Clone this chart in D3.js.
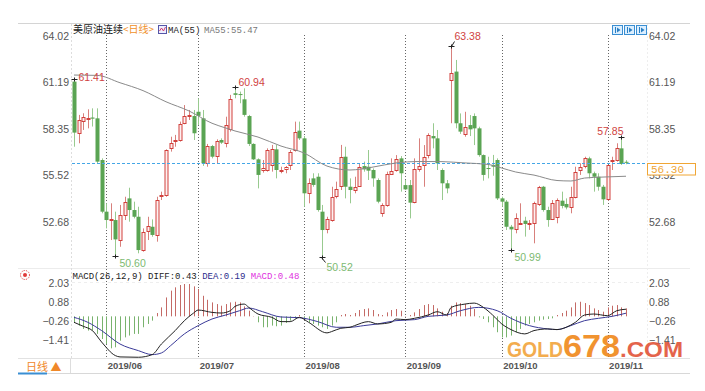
<!DOCTYPE html>
<html>
<head>
<meta charset="utf-8">
<script src="https://cdn.jsdelivr.net/npm/d3@7"></script>
<style>
  body { margin: 0; background: #fff; }
  svg text { font-family: "Liberation Sans", Arial, sans-serif; }
  .mono { font-family: "Liberation Mono", "DejaVu Sans Mono", monospace; }
  .cjk { font-family: "Noto Sans CJK SC", sans-serif; }
</style>
</head>
<body>
<svg id="chart" width="705" height="391"></svg>
<script>
// daily candles, index 0 = first bar on the chart
const open = [61.24,58.13,58.86,58.94,59.05,59.00,56.46,53.31,52.78,52.80,51.58,53.11,54.12,53.41,53.00,50.97,52.15,52.39,51.89,54.25,
  54.33,57.17,57.60,57.68,58.70,59.15,59.14,59.40,59.00,56.26,57.31,56.71,57.68,57.48,58.33,60.53,60.48,60.16,59.14,57.44,
  56.50,55.85,55.85,56.16,57.11,55.83,55.90,56.16,57.07,58.25,57.78,54.47,55.34,55.44,53.31,52.23,52.80,54.22,54.83,56.66,
  54.83,54.67,54.87,56.09,56.05,55.85,55.24,53.21,53.71,55.65,55.81,56.56,54.93,54.93,53.86,55.89,56.15,56.76,57.92,57.78,
  55.85,55.04,61.38,61.85,58.70,58.09,58.59,59.14,58.39,56.76,55.97,56.16,56.46,54.12,53.92,52.39,52.23,52.58,52.76,52.56,
  52.60,53.78,54.83,53.41,52.84,53.00,53.98,53.78,53.61,54.22,55.85,56.05,56.56,55.65,55.44,54.83,54.06,56.40,56.46,57.17,56.35];
const high = [61.41,59.21,59.31,59.55,59.61,59.61,56.56,53.82,53.82,53.31,53.72,54.22,54.77,53.92,53.61,52.29,53.00,52.84,54.22,54.53,
  57.11,57.88,57.99,58.80,59.81,59.51,59.51,60.22,59.51,57.44,57.38,57.72,57.78,59.10,60.43,60.94,60.63,60.83,59.21,57.48,
  56.56,56.46,57.17,57.38,57.38,56.05,56.09,57.07,58.80,58.80,57.92,55.34,55.65,55.65,53.72,53.00,54.83,55.14,57.38,57.27,
  55.34,55.44,56.26,56.36,57.07,55.95,55.34,53.82,55.75,56.56,56.76,56.70,55.24,55.24,56.56,57.78,57.37,58.09,58.70,58.29,
  55.95,55.24,63.38,62.56,59.30,59.40,59.20,59.30,58.49,56.80,56.66,56.77,56.56,54.22,54.02,52.50,53.21,53.82,53.00,52.80,
  53.92,54.88,54.88,53.61,54.02,54.12,54.53,54.12,54.83,56.05,56.26,56.66,56.66,55.75,55.65,54.94,56.16,56.66,57.48,57.85,56.45];
const low = [57.27,57.48,58.29,58.39,58.50,56.26,53.21,52.29,51.58,50.60,51.17,52.80,52.70,52.90,50.77,50.87,51.58,51.78,51.48,54.02,
  54.22,56.97,57.27,57.58,58.64,58.90,57.68,58.60,56.10,56.05,56.56,56.26,57.44,57.23,58.19,60.22,59.92,59.10,57.31,56.46,
  54.73,55.69,55.75,55.75,55.34,55.65,55.65,55.85,56.97,57.68,53.61,53.82,54.83,53.31,50.52,51.99,52.70,54.12,54.63,54.12,
  53.82,54.43,54.83,55.75,55.24,54.83,53.82,53.00,53.61,55.65,55.75,54.53,54.63,52.90,53.82,55.75,54.83,56.56,57.17,55.85,
  54.02,54.43,58.70,58.39,58.05,57.88,57.92,57.37,56.66,55.20,55.34,55.50,54.02,53.61,52.19,50.99,51.99,52.50,51.79,52.20,
  51.38,53.66,53.31,52.39,52.80,52.60,53.51,53.45,53.21,54.12,55.55,55.95,55.34,54.53,54.59,53.72,53.98,55.85,56.36,56.16,56.20];
const close = [58.13,58.90,59.10,59.00,58.98,56.36,53.31,52.80,52.84,51.62,53.11,53.92,53.41,53.00,50.97,52.09,52.44,51.89,54.02,54.33,
  57.07,57.48,57.68,58.64,59.14,59.20,58.09,59.15,56.26,57.31,56.66,57.62,57.52,58.60,60.16,60.43,60.43,59.21,57.44,56.50,
  55.55,55.95,57.07,57.11,55.85,55.87,56.01,56.97,58.19,57.78,54.43,55.08,54.94,53.41,52.19,52.84,54.22,54.67,56.62,54.83,
  54.63,54.83,56.05,55.89,55.81,55.34,53.92,53.71,55.61,55.81,56.50,55.65,54.67,53.86,55.89,56.09,56.66,57.98,57.78,56.26,
  55.04,54.73,61.78,58.70,58.19,58.49,58.33,58.39,56.76,55.55,55.93,56.05,54.12,53.92,52.39,52.23,52.90,52.62,52.56,52.62,
  53.82,54.83,53.41,52.80,53.82,54.02,53.66,53.57,54.22,55.75,56.01,56.56,55.65,55.44,54.83,54.06,56.16,56.46,57.17,56.22,56.30];

// MA55 read at some bars
const maIdx = [0,5,10,15,20,25,30,33,35,40,45,50,55,60,65,70,75,80,85,90,93,96,100,105,108,111,115,120];
const maVal = [61.64,61.62,61.17,60.69,60.01,59.45,58.70,58.41,58.23,57.86,57.31,56.89,56.09,55.85,56.03,56.28,56.37,56.36,56.28,56.19,55.97,55.73,55.54,55.21,55.18,55.36,55.42,55.47];

// MACD(26,12,9)
const macdHist = [-0.36,-0.56,-0.76,-0.86,-0.86,-1.06,-1.37,-1.67,-1.93,-1.87,-1.47,-1.27,-1.16,-1.06,-1.06,-0.66,-0.46,-0.26,0.20,0.54,
  1.14,1.55,1.75,1.89,1.95,1.95,1.81,1.65,1.24,1.00,0.84,0.74,0.64,0.74,0.84,0.88,0.84,0.60,0.34,0.02,
  -0.36,-0.66,-0.66,-0.56,-0.60,-0.56,-0.40,-0.26,-0.12,0.08,-0.16,-0.36,-0.46,-0.56,-0.66,-0.76,-0.56,-0.36,0.08,0.14,
  0.08,0.20,0.38,0.44,0.48,0.38,0.14,0.08,0.24,0.38,0.44,0.34,0.02,0.08,0.24,0.44,0.68,0.74,0.68,0.48,
  0.28,0.20,0.64,0.84,0.80,0.74,0.64,0.44,-0.06,-0.16,-0.36,-0.66,-0.96,-1.27,-1.27,-1.16,-0.96,-0.76,-0.56,-0.46,
  -0.36,-0.26,-0.20,-0.16,-0.12,0.08,0.20,0.34,0.54,0.84,0.88,0.80,0.68,0.48,0.38,0.28,0.54,0.64,0.68,0.54,0.48];
const diffIdx = [0,2,4,6,9,10,14,17,19,22,24,26,27,30,32,34,35,37,38,40,43,45,47,49,51,55,56,58,60,61,64,66,69,70,72,74,77,79,81,82,85,87,89,91,93,95,98,100,103,105,107,109,111,113,116,118,120];
const diffVal = [-0.36,-0.60,-0.86,-1.55,-2.37,-2.45,-2.47,-2.31,-1.67,-0.86,-0.26,0.20,0.38,0.24,0.20,0.34,0.60,0.74,0.54,0.14,-0.06,-0.32,-0.32,-0.06,-0.36,-1.00,-0.92,-0.72,-0.66,-0.56,-0.32,-0.46,-0.36,-0.16,-0.20,-0.12,0.08,0.28,0.08,0.54,0.74,0.80,0.54,0.08,-0.46,-0.80,-1.06,-0.86,-0.76,-0.80,-0.66,-0.36,0.08,0.14,0.04,0.34,0.43];
const deaIdx = [0,3,6,10,14,17,19,21,24,27,30,33,36,38,41,45,49,53,57,60,63,66,70,74,77,81,84,88,92,95,99,103,105,108,111,114,117,120];
const deaVal = [-0.06,-0.36,-0.86,-1.67,-2.07,-2.31,-2.21,-1.77,-1.06,-0.56,-0.16,0.08,0.34,0.50,0.28,-0.04,-0.08,-0.32,-0.66,-0.66,-0.56,-0.46,-0.26,-0.20,0.00,0.08,0.34,0.54,0.34,-0.12,-0.56,-0.76,-0.80,-0.56,-0.26,-0.12,0.00,0.19];

const priceTicks = [64.02, 61.19, 58.35, 55.52, 52.68];
const macdTicks = [2.03, 0.88, -0.26, -1.41];
const monthIdx = [7, 27, 50, 72, 93, 116];
const monthLabels = ["2019/06", "2019/07", "2019/08", "2019/09", "2019/10", "2019/11"];
const lastPrice = 56.30;

// marked extremes
const markIdx = [0, 35, 82, 119, 9, 54, 95];
const markHigh = [true, true, true, true, false, false, false];

const svg = d3.select("#chart");
const n = close.length;

const x = d3.scaleLinear().domain([0, n - 1]).range([74, 626]);
const y = d3.scaleLinear().domain([52.68, 64.02]).range([222, 36]);
const ym = d3.scaleLinear().domain([-1.41, 2.03]).range([339.7, 282.7]);

const up = "#d2403c", upWick = "#d8807c", upFill = "#fdf0f0";
const dn = "#5aa453", dnWick = "#98ca8f";

// frame lines
svg.append("line").attr("x1", 18).attr("x2", 690).attr("y1", 23.5).attr("y2", 23.5).attr("stroke", "#d4d4d4");
svg.append("line").attr("x1", 18).attr("x2", 690).attr("y1", 268.5).attr("y2", 268.5).attr("stroke", "#ececec");
svg.append("line").attr("x1", 72).attr("x2", 646).attr("y1", 282.5).attr("y2", 282.5).attr("stroke", "#eee").attr("stroke-dasharray", "3,3");
svg.append("line").attr("x1", 18).attr("x2", 690).attr("y1", 358.5).attr("y2", 358.5).attr("stroke", "#e2e2e2");
svg.append("line").attr("x1", 18).attr("x2", 690).attr("y1", 373.5).attr("y2", 373.5).attr("stroke", "#d8d8d8");
svg.append("line").attr("x1", 18).attr("x2", 47).attr("y1", 373.5).attr("y2", 373.5).attr("stroke", "#3a8fd3").attr("stroke-width", 2);
svg.append("line").attr("x1", 70.5).attr("x2", 70.5).attr("y1", 359).attr("y2", 373).attr("stroke", "#ddd");
svg.append("line").attr("x1", 71.5).attr("x2", 71.5).attr("y1", 24).attr("y2", 358).attr("stroke", "#ddd").attr("stroke-dasharray", "2,2");
svg.append("line").attr("x1", 647.5).attr("x2", 647.5).attr("y1", 24).attr("y2", 358).attr("stroke", "#eee").attr("stroke-dasharray", "2,2");

// month dotted lines
svg.append("g").selectAll("line")
  .data(monthIdx)
  .enter().append("line")
  .attr("x1", d => Math.round(x(d)) + 0.5)
  .attr("x2", d => Math.round(x(d)) + 0.5)
  .attr("y1", 35)
  .attr("y2", 358)
  .attr("stroke", "#666")
  .attr("stroke-dasharray", "1,2");

// price axes
const leftAxis = svg.append("g")
  .attr("transform", "translate(69,0)")
  .call(d3.axisLeft(y).tickValues(priceTicks).tickSize(0).tickPadding(0).tickFormat(d3.format(".2f")));
const rightAxis = svg.append("g")
  .attr("transform", "translate(649,0)")
  .call(d3.axisRight(y).tickValues(priceTicks).tickSize(0).tickPadding(0).tickFormat(d3.format(".2f")));
[leftAxis, rightAxis].forEach(g => {
  g.select(".domain").remove();
  g.selectAll("text").attr("font-size", 10.5).attr("fill", "#555").attr("font-family", "Liberation Sans, Arial, sans-serif");
});

// candles
const candles = svg.append("g");
d3.range(n).forEach(i => {
  const cx = Math.round(x(i));
  const isUp = close[i] >= open[i];
  candles.append("line")
    .attr("x1", cx + 0.5).attr("x2", cx + 0.5)
    .attr("y1", y(high[i])).attr("y2", y(low[i]))
    .attr("stroke", isUp ? upWick : dnWick);
  const top = y(Math.max(open[i], close[i]));
  const h = Math.max(1, y(Math.min(open[i], close[i])) - top);
  if (isUp) {
    candles.append("rect")
      .attr("x", cx - 1).attr("y", Math.round(top) + 0.5)
      .attr("width", 3).attr("height", Math.max(1, Math.round(h)))
      .attr("fill", upFill).attr("stroke", up);
  } else {
    candles.append("rect")
      .attr("x", cx - 1.5).attr("y", top)
      .attr("width", 4).attr("height", h)
      .attr("fill", dn);
  }
});

// last price line
svg.append("line")
  .attr("x1", 72).attr("x2", 647)
  .attr("y1", Math.round(y(lastPrice)) + 0.5).attr("y2", Math.round(y(lastPrice)) + 0.5)
  .attr("stroke", "#44a6e6")
  .attr("stroke-dasharray", "3,2");

// MA55
svg.append("path")
  .datum(maIdx.map((d, i) => [d, maVal[i]]))
  .attr("fill", "none")
  .attr("stroke", "#8a8a8a")
  .attr("d", d3.line().x(d => x(d[0])).y(d => y(d[1])).curve(d3.curveMonotoneX));

// high / low marks
markIdx.forEach((k, j) => {
  const isHigh = markHigh[j];
  const v = isHigh ? high[k] : low[k];
  const px = Math.round(x(k)) + 0.5, py = Math.round(y(v)) + 0.5;
  svg.append("line").attr("x1", px - 3).attr("x2", px + 3).attr("y1", py).attr("y2", py).attr("stroke", "#222");
  svg.append("line").attr("x1", px).attr("x2", px).attr("y1", py - 2).attr("y2", py + 2).attr("stroke", "#222");
  let tx = px + 4, ty = py + 1, anchor = "start";
  if (k === 35) { tx = px + 3; ty = py - 2; }
  if (k === 82) {
    svg.append("line").attr("x1", px).attr("y1", py).attr("x2", px + 3).attr("y2", py - 5).attr("stroke", "#222");
    tx = px + 3; ty = py - 7;
  }
  if (k === 119) { tx = px + 2; ty = py - 3; anchor = "end"; }
  if (k === 9) { tx = px + 4; ty = py + 10; }
  if (k === 54) {
    svg.append("line").attr("x1", px - 1).attr("y1", py).attr("x2", px + 3).attr("y2", py + 5).attr("stroke", "#222");
    tx = px + 4; ty = py + 13;
  }
  if (k === 95) { tx = px + 3; ty = py + 10; }
  svg.append("text")
    .attr("x", tx).attr("y", ty)
    .attr("text-anchor", anchor)
    .attr("font-size", 10.5)
    .attr("fill", isHigh ? "#d0433f" : "#7dba72")
    .text(d3.format(".2f")(v));
});

// last price box
const lp = Math.round(y(lastPrice)) + 0.5;
svg.append("rect").attr("x", 647.5).attr("y", lp).attr("width", 48).attr("height", 11.5)
  .attr("fill", "#fff").attr("stroke", "#f0a635");
svg.append("text").attr("class", "mono").attr("x", 651).attr("y", lp + 9.5)
  .attr("font-size", 11).attr("fill", "#f0a635").text(d3.format(".2f")(lastPrice));

// title
const title = svg.append("text").attr("x", 73).attr("y", 33).attr("font-size", 10);
title.append("tspan").attr("class", "cjk").attr("fill", "#222").text("美原油连续");
title.append("tspan").attr("class", "cjk").attr("fill", "#f0902a").text("<日线>");
svg.append("rect").attr("x", 158.5).attr("y", 25.5).attr("width", 8).attr("height", 8)
  .attr("fill", "#eef").attr("stroke", "#5556a8");
svg.append("polyline").attr("points", "159.5,31 161.5,28 163.5,31 165.5,27")
  .attr("fill", "none").attr("stroke", "#d04070");
svg.append("text").attr("class", "mono").attr("x", 168).attr("y", 33).attr("font-size", 9)
  .attr("fill", "#222").text("MA(55)");
svg.append("text").attr("class", "mono").attr("x", 204).attr("y", 33).attr("font-size", 9)
  .attr("fill", "#777").text("MA55:" + d3.format(".2f")(maVal[maVal.length - 1]));

// top right buttons
[612, 624, 636].forEach(bx => {
  svg.append("rect").attr("x", bx + 0.5).attr("y", 25.5).attr("width", 10).attr("height", 9)
    .attr("fill", "#dcefff").attr("stroke", "#3a8fd3");
  svg.append("line").attr("x1", bx + 3.5).attr("x2", bx + 3.5).attr("y1", 27).attr("y2", 33).attr("stroke", "#2a7fc3");
  svg.append("path").attr("d", `M${bx + 5},27.5 L${bx + 8.5},30 L${bx + 5},32.5 Z`).attr("fill", "#2a7fc3");
});

// MACD panel
const macdRows = svg.append("g");
macdRows.selectAll("line")
  .data(macdHist)
  .enter().append("line")
  .attr("x1", (d, i) => Math.round(x(i)) + 0.5)
  .attr("x2", (d, i) => Math.round(x(i)) + 0.5)
  .attr("y1", ym(0))
  .attr("y2", d => ym(d))
  .attr("stroke", d => d >= 0 ? "#c46a66" : "#79b36e");

const mline = d3.line().x(d => x(d[0])).y(d => ym(d[1])).curve(d3.curveMonotoneX);
svg.append("path")
  .datum(deaIdx.map((d, i) => [d, deaVal[i]]))
  .attr("fill", "none").attr("stroke", "#3a3a98").attr("d", mline);
svg.append("path")
  .datum(diffIdx.map((d, i) => [d, diffVal[i]]))
  .attr("fill", "none").attr("stroke", "#222").attr("d", mline);

const macdLeft = svg.append("g")
  .attr("transform", "translate(69,0)")
  .call(d3.axisLeft(ym).tickValues(macdTicks).tickSize(0).tickPadding(0).tickFormat(d3.format(".2f")));
const macdRight = svg.append("g")
  .attr("transform", "translate(649,0)")
  .call(d3.axisRight(ym).tickValues(macdTicks).tickSize(0).tickPadding(0).tickFormat(d3.format(".2f")));
[macdLeft, macdRight].forEach(g => {
  g.select(".domain").remove();
  g.selectAll("text").attr("font-size", 10.5).attr("fill", "#555").attr("font-family", "Liberation Sans, Arial, sans-serif");
});

// MACD title
const mt = svg.append("text").attr("class", "mono").attr("x", 72.5).attr("y", 278.5).attr("font-size", 9);
mt.append("tspan").attr("fill", "#222").text("MACD(26,12,9) DIFF:" + d3.format(".2f")(diffVal[diffVal.length - 1]) + " ");
mt.append("tspan").attr("fill", "#2b2b8c").text("DEA:" + d3.format(".2f")(deaVal[deaVal.length - 1]) + " ");
mt.append("tspan").attr("fill", "#e030e0").text("MACD:" + d3.format(".2f")(macdHist[n - 1]));
svg.append("circle").attr("cx", 25).attr("cy", 275).attr("r", 2).attr("fill", "#e03a3a");
svg.append("circle").attr("cx", 25).attr("cy", 275).attr("r", 4.5).attr("fill", "none")
  .attr("stroke", "#e03a3a").attr("stroke-dasharray", "1.2,1.2");

// month axis
const xAxis = svg.append("g")
  .attr("transform", "translate(0,358)")
  .call(d3.axisBottom(x).tickValues(monthIdx).tickSize(0).tickPadding(4)
    .tickFormat((d, i) => monthLabels[i]));
xAxis.select(".domain").remove();
xAxis.selectAll("text")
  .attr("text-anchor", "start").attr("dx", 1)
  .attr("font-size", 9.5).attr("font-weight", "bold").attr("fill", "#555")
  .attr("font-family", "Liberation Sans, Arial, sans-serif");

// period tab
svg.append("text").attr("class", "cjk").attr("x", 26).attr("y", 371)
  .attr("font-size", 11).attr("fill", "#f0882a").text("日线 ▲");

// watermark
const wm = [["GOLD", 507, 56, 22, "#f2a640"], ["678", 563, 57, 31, "#f08a1e"], [".COM", 620, 63, 22, "#e2573c"]];
wm.forEach(w => {
  svg.append("text")
    .attr("x", w[1]).attr("y", 357)
    .attr("font-size", w[3]).attr("font-weight", "bold")
    .attr("font-family", "Open Sans, Liberation Sans, sans-serif")
    .attr("textLength", w[2]).attr("lengthAdjust", "spacingAndGlyphs")
    .attr("fill", w[4]).attr("opacity", 0.92)
    .text(w[0]);
});
</script>
</body>
</html>
